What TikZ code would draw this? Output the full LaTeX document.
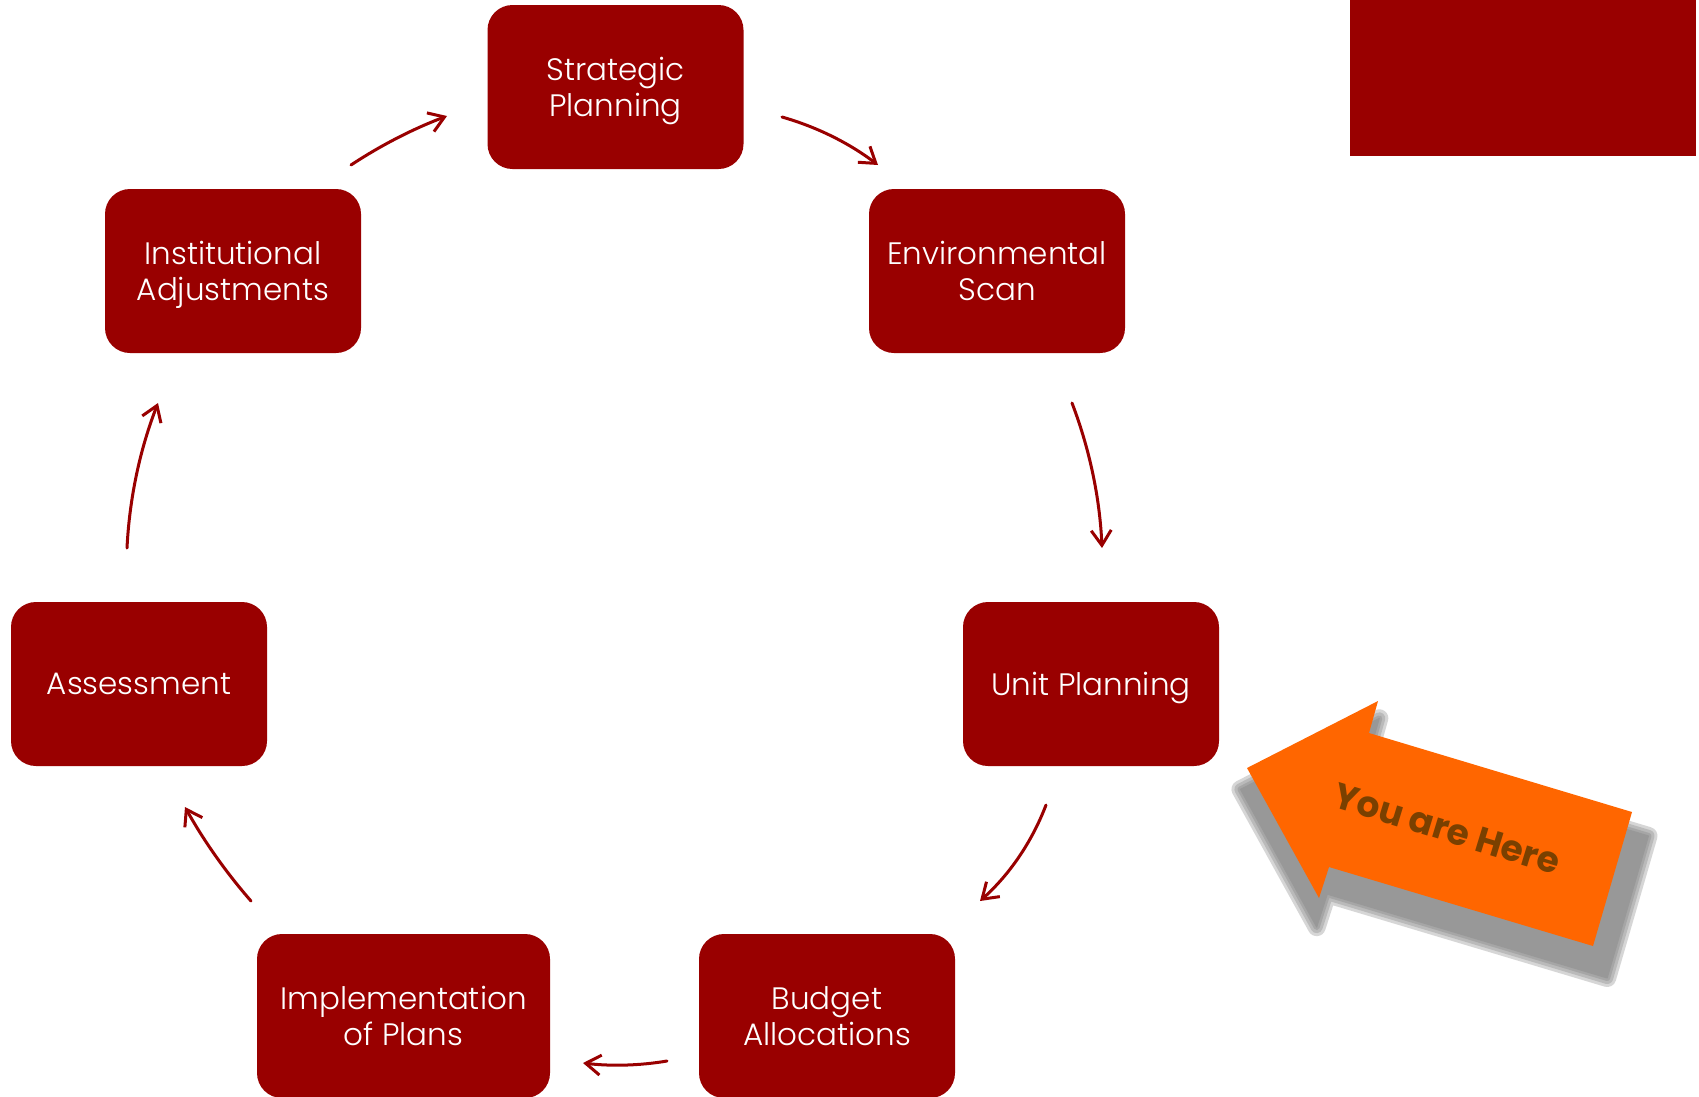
\documentclass[tikz,border=0pt]{standalone}
\usepackage{fontspec}
\IfFontExistsTF{Poppins Light}
  {\setmainfont{Poppins Light}[BoldFont={Poppins Bold}]}
  {\setmainfont{Poppins}}
\usetikzlibrary{arrows.meta}
\definecolor{boxred}{HTML}{990000}
\definecolor{youorange}{HTML}{FF6600}
\definecolor{youbrown}{HTML}{7A4000}
\definecolor{shadowgray}{HTML}{7A7A7A}
\begin{document}
\begin{tikzpicture}[x=1pt,y=-1pt,
  stage/.style={fill=boxred, rounded corners=25pt, minimum width=256pt, minimum height=164pt,
    text=white, align=center, font=\fontsize{31}{36}\selectfont, inner sep=0pt, text depth=0pt},
  flow/.style={draw=boxred, line width=3pt, line cap=round,
    -{Straight Barb[length=15pt,width=20pt]}},
  shade/.style={fill=shadowgray, draw=shadowgray, line join=round}]
\useasboundingbox[fill=white] (0,0) rectangle (1699,1096);

% top-right banner
\fill[boxred] (1350,0) rectangle (1696,156);

% stages
\node[stage] (strat)  at (615.5,87)  {Strategic\\Planning};
\node[stage] (env)    at (997,271)   {Environmental\\Scan};
\node[stage] (inst)   at (233,271)   {Institutional\\Adjustments};
\node[stage] (unit)   at (1091,684)  {Unit Planning};
\node[stage] (assess) at (139,684)   {Assessment};
\node[stage, minimum width=293pt] (impl) at (403.5,1016) {Implementation\\of Plans};
\node[stage] (budget) at (827,1016)  {Budget\\Allocations};

% connector end points
\coordinate (a1s) at (351,165);  \coordinate (a1e) at (447,116);
\coordinate (a2s) at (782,117);  \coordinate (a2e) at (878,165);
\coordinate (a3s) at (1072,403); \coordinate (a3e) at (1102,548);
\coordinate (a4s) at (1046,805); \coordinate (a4e) at (980,901);
\coordinate (a5s) at (667,1061); \coordinate (a5e) at (583,1063);
\coordinate (a6s) at (251,901);  \coordinate (a6e) at (185,807);
\coordinate (a7s) at (127,548);  \coordinate (a7e) at (158,403);

\draw[flow] (a1s) .. controls (381.2,145.1) and (413.2,128.8) .. (a1e);
\draw[flow] (a2s) .. controls (817,127) and (849,143) .. (a2e);
\draw[flow] (a3s) .. controls (1089.8,449.7) and (1099.8,498.1) .. (a3e);
\draw[flow] (a4s) .. controls (1031.7,842.3) and (1009.7,874.3) .. (a4e);
\draw[flow] (a5s) .. controls (639,1065.7) and (611,1066.3) .. (a5e);
\draw[flow] (a6s) .. controls (225.7,872) and (203.7,840.6) .. (a6e);
\draw[flow] (a7s) .. controls (129.5,498) and (139.9,449.6) .. (a7e);

% "You are Here" arrow shadow (soft)
\foreach \w in {18,12,6,1}{
  \begin{scope}[transparency group, opacity=0.3]
  \filldraw[shade, line width=\w pt]
    (1240.4,789.3) -- (1379.3,718.3) -- (1369.7,752.2) -- (1648.5,835.9)
    -- (1607.2,978) -- (1327.3,894.2) -- (1316.7,927.1) -- cycle;
  \end{scope}
}

% orange arrow
\fill[youorange] (1247,768) -- (1378,701) -- (1369,733) -- (1632,812)
    -- (1593,946) -- (1329,867) -- (1319,898) -- cycle;
\node[rotate=-17, text=youbrown, font=\bfseries\fontsize{36}{36}\selectfont] (here)
  at (1447,829) {You are Here};
\end{tikzpicture}
\end{document}
